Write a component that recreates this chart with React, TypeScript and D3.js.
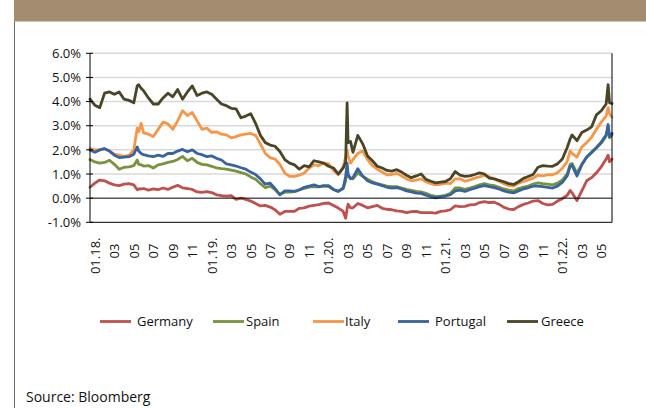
import React from "react";
import * as d3 from "d3";

// sample times, in months since 1 Jan 2018
const T = [
  0, 0.5, 1, 1.5, 2, 2.5, 3, 3.5, 4, 4.5, 4.85, 5, 5.25, 5.5, 6, 6.5, 7, 7.5, 8, 8.5, 9, 9.5, 10, 10.5, 11, 11.5, 12, 12.5, 13, 13.5,
  14, 14.5, 15, 15.5, 16, 16.5, 17, 17.5, 18, 18.5, 19, 19.5, 20, 20.5, 21, 21.5, 22, 22.5, 23, 23.5, 24, 24.5, 25, 25.5, 26,
  26.25, 26.4, 26.5, 26.75,
  27, 27.5, 28, 28.5, 29, 29.5, 30, 30.5, 31, 31.5, 32, 32.5, 33, 33.5, 34, 34.5, 35, 35.5, 36, 36.5, 37, 37.5, 38, 38.5, 39, 39.5,
  40, 40.5, 41, 41.5, 42, 42.5, 43, 43.5, 44, 44.5, 45, 45.5, 46, 46.5, 47, 47.5, 48, 48.5, 49,
  49.3, 49.5, 50, 50.5, 51, 51.5, 52, 52.5, 53, 53.2, 53.35, 53.6,
];

const germany = [
  0.45, 0.62, 0.75, 0.72, 0.62, 0.55, 0.52, 0.58, 0.6, 0.55, 0.35, 0.38, 0.38, 0.4, 0.33, 0.38, 0.35, 0.42, 0.36, 0.45, 0.53, 0.43, 0.4, 0.36, 0.26, 0.24, 0.27, 0.23, 0.14, 0.1,
  0.08, 0.1, -0.05, 0.0, -0.05, -0.12, -0.22, -0.32, -0.3, -0.37, -0.48, -0.67, -0.55, -0.55, -0.55, -0.42, -0.4, -0.33, -0.3, -0.27, -0.22, -0.2, -0.3, -0.41, -0.55,
  -0.83, -0.45, -0.25, -0.4,
  -0.4, -0.22, -0.3, -0.4, -0.35, -0.3, -0.42, -0.46, -0.48, -0.53, -0.55, -0.6, -0.56, -0.55, -0.6, -0.6, -0.6, -0.62, -0.55, -0.53, -0.48, -0.32, -0.35, -0.34, -0.28,
  -0.27, -0.18, -0.14, -0.18, -0.17, -0.25, -0.38, -0.45, -0.47, -0.35, -0.26, -0.2, -0.12, -0.1, -0.22, -0.28, -0.26, -0.12, -0.02, 0.12,
  0.32, 0.22, -0.1, 0.3, 0.72, 0.85, 1.05, 1.3, 1.62, 1.78, 1.5, 1.62,
];

const spain = [
  1.6, 1.5, 1.45, 1.48, 1.57, 1.4, 1.2, 1.28, 1.3, 1.35, 1.58, 1.4, 1.38, 1.33, 1.35, 1.25, 1.38, 1.42, 1.48, 1.52, 1.6, 1.73, 1.55, 1.65, 1.48, 1.4, 1.38, 1.32, 1.25, 1.22,
  1.2, 1.16, 1.12, 1.06, 1.0, 0.88, 0.78, 0.6, 0.43, 0.5, 0.35, 0.15, 0.25, 0.25, 0.27, 0.34, 0.4, 0.46, 0.48, 0.47, 0.5, 0.48, 0.36, 0.28, 0.4,
  0.72, 1.17, 0.9, 0.85,
  0.8, 1.04, 0.9, 0.78, 0.68, 0.6, 0.55, 0.5, 0.48, 0.48, 0.42, 0.36, 0.32, 0.28, 0.26, 0.2, 0.12, 0.07, 0.08, 0.12, 0.2, 0.42, 0.42, 0.36, 0.42,
  0.48, 0.55, 0.6, 0.55, 0.52, 0.45, 0.38, 0.33, 0.3, 0.4, 0.46, 0.5, 0.58, 0.63, 0.6, 0.58, 0.55, 0.62, 0.76, 1.0,
  1.4, 1.44, 1.04, 1.4, 1.7, 1.88, 2.08, 2.28, 2.58, 2.95, 2.5, 2.62,
];

const italy = [
  2.05, 2.0, 2.0, 2.05, 1.95, 1.82, 1.78, 1.72, 1.78, 2.0, 2.9, 2.75, 3.1, 2.7, 2.65, 2.55, 2.85, 3.15, 3.08, 2.85, 3.2, 3.62, 3.42, 3.55, 3.2, 2.85, 2.9, 2.72, 2.75, 2.65,
  2.62, 2.5, 2.55, 2.62, 2.65, 2.68, 2.6, 2.25, 1.85, 1.68, 1.62, 1.4, 1.04, 0.9, 0.9, 0.95, 1.04, 1.25, 1.38, 1.35, 1.45, 1.42, 1.15, 0.97, 1.3,
  1.7, 2.0, 1.75, 1.45,
  1.6, 1.85, 1.95, 1.6, 1.35, 1.2, 1.08, 0.97, 0.98, 1.03, 0.92, 0.8, 0.72, 0.75, 0.8, 0.68, 0.6, 0.55, 0.57, 0.62, 0.6, 0.8, 0.8, 0.7, 0.76,
  0.83, 0.88, 0.95, 0.88, 0.8, 0.7, 0.6, 0.52, 0.5, 0.62, 0.69, 0.76, 0.83, 0.95, 0.92, 0.97, 0.97, 1.05, 1.24, 1.52,
  1.95, 1.85, 1.7, 2.12, 2.3, 2.52, 2.85, 3.15, 3.4, 3.75, 3.5, 3.35,
];

const portugal = [
  2.0, 1.9, 2.0, 2.05, 1.95, 1.78, 1.68, 1.7, 1.72, 1.82, 2.12, 1.95, 1.85, 1.8, 1.75, 1.72, 1.78, 1.73, 1.85, 1.85, 1.95, 2.02, 1.92, 2.0, 1.85, 1.8, 1.72, 1.75, 1.65, 1.58,
  1.42, 1.38, 1.33, 1.26, 1.2, 1.08, 0.98, 0.8, 0.58, 0.62, 0.4, 0.14, 0.3, 0.3, 0.28, 0.35, 0.45, 0.5, 0.55, 0.48, 0.52, 0.52, 0.36, 0.28, 0.42,
  0.9, 1.45, 1.0, 0.8,
  0.85, 1.22, 0.92, 0.72, 0.63, 0.58, 0.52, 0.45, 0.42, 0.44, 0.38, 0.3, 0.26, 0.21, 0.2, 0.12, 0.06, 0.01, 0.06, 0.08, 0.14, 0.3, 0.33, 0.28, 0.35,
  0.41, 0.48, 0.52, 0.48, 0.44, 0.38, 0.3, 0.25, 0.22, 0.3, 0.38, 0.43, 0.5, 0.5, 0.48, 0.45, 0.42, 0.5, 0.65, 0.92,
  1.32, 1.36, 0.92, 1.38, 1.7, 1.9, 2.1, 2.32, 2.62, 3.05, 2.55, 2.68,
];

const greece = [
  4.1, 3.85, 3.75, 4.35, 4.4, 4.3, 4.4, 4.1, 4.05, 3.95, 4.65, 4.7, 4.55, 4.45, 4.15, 3.9, 3.9, 4.15, 4.35, 4.2, 4.5, 4.1, 4.4, 4.65, 4.25, 4.35, 4.4, 4.3, 4.1, 3.9,
  3.83, 3.72, 3.7, 3.33, 3.4, 3.5, 3.1, 2.6, 2.3, 2.2, 2.15, 1.93, 1.6, 1.45, 1.38, 1.2, 1.35, 1.3, 1.55, 1.5, 1.45, 1.32, 1.25, 1.0, 1.25,
  1.5, 3.95, 2.3, 2.35,
  1.9, 2.6, 2.25, 1.75, 1.55, 1.32, 1.25, 1.15, 1.12, 1.18, 1.08, 0.95, 0.85, 0.92, 1.0, 0.78, 0.7, 0.63, 0.66, 0.69, 0.8, 1.1, 0.95, 0.9, 0.92,
  0.98, 1.05, 1.0, 0.83, 0.8, 0.74, 0.68, 0.6, 0.57, 0.68, 0.82, 0.9, 0.98, 1.28, 1.35, 1.33, 1.32, 1.42, 1.62, 2.1,
  2.45, 2.62, 2.38, 2.72, 2.82, 2.95, 3.45, 3.62, 3.9, 4.7, 3.95, 3.92,
];

const seriesNames = ["Germany", "Spain", "Italy", "Portugal", "Greece"];
const seriesValues = [germany, spain, italy, portugal, greece];
const seriesColors = ["#c0504d", "#77933c", "#f79646", "#38639f", "#4b4527"];

const yTicks = [-1, 0, 1, 2, 3, 4, 5, 6];
const xTickLabels = [
  "01.18.", "03", "05", "07", "09", "11",
  "01.19.", "03", "05", "07", "09", "11",
  "01.20.", "03", "05", "07", "09", "11",
  "01.21.", "03", "05", "07", "09", "11",
  "01.22.", "03", "05",
];

// layout
const W = 646;
const H = 408;
const plotLeft = 90;
const plotRight = 612;
const plotTop = 53.3;
const plotBottom = 222.3;
const legendLineX = [100, 213, 313, 398, 507];
const legendTextX = [137, 246, 345, 435, 541];
const legendY = 321.5;
const FONT = "'Open Sans', 'Noto Sans', sans-serif";

export default function App() {
  const x = d3.scaleLinear().domain([0, 53.6]).range([plotLeft, plotRight]);
  const y = d3.scaleLinear().domain([-1, 6]).range([plotBottom, plotTop]);

  const line = d3
    .line<number>()
    .x((_, i) => x(T[i]))
    .y((d) => y(d));

  return (
    <svg
      width={W}
      height={H}
      viewBox={`0 0 ${W} ${H}`}
      style={{ position: "absolute", left: 0, top: 0, background: "#fff" }}
      fontFamily={FONT}
    >
      <rect x={0} y={0} width={W} height={H} fill="#ffffff" />
      {/* header band */}
      <rect x={14} y={0} width={W - 14} height={21.5} fill="#a38c70" />
      {/* left frame line */}
      <line x1={14.5} y1={21.5} x2={14.5} y2={H} stroke="#6b6b6b" strokeWidth={1} />

      {/* gridlines */}
      {yTicks.map((t) =>
        t === 0 || t === -1 ? null : (
          <line
            key={"g" + t}
            x1={plotLeft}
            x2={plotRight}
            y1={y(t)}
            y2={y(t)}
            stroke="#d9d9d9"
            strokeWidth={1.5}
          />
        )
      )}

      {/* series */}
      {seriesValues.map((vals, i) => (
        <path
          key={seriesNames[i]}
          d={line(vals) || ""}
          fill="none"
          stroke={seriesColors[i]}
          strokeWidth={2.8}
          strokeLinejoin="round"
          strokeLinecap="round"
        />
      ))}

      {/* zero line */}
      <line x1={plotLeft} x2={plotRight} y1={y(0)} y2={y(0)} stroke="#000" strokeWidth={1} />
      {/* frame: left axis, right, bottom */}
      <line x1={plotLeft} x2={plotLeft} y1={plotTop} y2={plotBottom} stroke="#000" strokeWidth={1} />
      <line x1={plotRight} x2={plotRight} y1={plotTop} y2={plotBottom} stroke="#000" strokeWidth={1} />
      <line x1={plotLeft} x2={plotRight} y1={plotBottom} y2={plotBottom} stroke="#000" strokeWidth={1} />

      {/* y ticks and labels */}
      {yTicks.map((t) => (
        <g key={"y" + t}>
          <line x1={plotLeft - 4} x2={plotLeft + 3} y1={y(t)} y2={y(t)} stroke="#000" strokeWidth={1} />
          <text
            x={81}
            y={y(t)}
            dy="0.36em"
            textAnchor="end"
            fontSize={13}
            fill="#111"
          >
            {t.toFixed(1) + "%"}
          </text>
        </g>
      ))}

      {/* x labels */}
      {xTickLabels.map((lab, i) => {
        const cx = x(i * 2) + 5;
        const isYear = lab.length > 3;
        const top = isYear ? 237.5 : 243.5;
        return (
          <text
            key={"x" + i}
            transform={`translate(${cx},${top}) rotate(-90)`}
            dy="0.36em"
            textAnchor="end"
            fontSize={13}
            fill="#111"
          >
            {lab}
          </text>
        );
      })}

      {/* legend */}
      {seriesNames.map((name, i) => (
        <g key={"l" + name}>
          <line
            x1={legendLineX[i]}
            x2={legendLineX[i] + 31}
            y1={legendY}
            y2={legendY}
            stroke={seriesColors[i]}
            strokeWidth={2.8}
          />
          <text x={legendTextX[i]} y={legendY} dy="0.36em" fontSize={13} fill="#111">
            {name}
          </text>
        </g>
      ))}

      {/* source */}
      <text x={26} y={402} fontSize={14} fill="#111">
        Source: Bloomberg
      </text>
    </svg>
  );
}
